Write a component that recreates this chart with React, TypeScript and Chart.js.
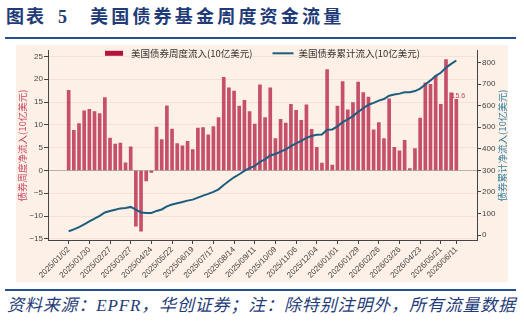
import React, { useEffect, useRef } from 'react';
import { Chart, registerables } from 'chart.js';

Chart.register(...registerables);

// Weekly net flows into US bond funds (USD bn), one per week from 2025/01/02 to 2026/06/11
const weeklyFlows = [
  17.6, 8.8, 10.3, 13.1, 13.4, 12.9, 12.5, 16.0, 7.1, 5.8,
  6.0, 1.7, 5.2, -12.2, -13.3, -2.3, -0.4, 9.5, 6.8, 14.2,
  9.1, 5.9, 5.4, 6.4, 4.6, 9.3, 9.4, 7.8, 9.6, 11.6,
  20.4, 18.1, 17.4, 14.1, 15.4, 12.9, 10.2, 18.8, 11.6, 18.1,
  7.0, 11.2, 10.4, 14.5, 13.2, 11.0, 14.4, 9.0, 5.1, 1.6,
  22.1, 1.2, 14.1, 19.5, 13.3, 14.9, 19.4, 17.1, 16.1, 8.9,
  10.5, 7.0, 15.7, 5.1, 4.3, 6.6, 0.4, 4.8, 11.5, 19.2,
  18.9, 20.7, 14.5, 24.3, 17.0, 15.6,
];

// Cumulative flows (USD bn)
const cumulativeFlows = [
  17.6, 26.4, 36.7, 49.8, 63.2, 76.1, 88.6, 104.6, 111.7, 117.5,
  123.5, 125.2, 130.4, 118.2, 104.9, 102.6, 102.2, 111.7, 118.5, 132.7,
  141.8, 147.7, 153.1, 159.5, 164.1, 173.4, 182.8, 190.6, 200.2, 211.8,
  232.2, 250.3, 267.7, 281.8, 297.2, 310.1, 320.3, 339.1, 350.7, 368.8,
  375.8, 387.0, 397.4, 411.9, 425.1, 436.1, 450.5, 459.5, 464.6, 466.2,
  488.3, 489.5, 503.6, 523.1, 536.4, 551.3, 570.7, 587.8, 603.9, 612.8,
  623.3, 630.3, 646.0, 651.1, 655.4, 662.0, 662.4, 667.2, 678.7, 697.9,
  716.8, 737.5, 752.0, 776.3, 793.3, 808.9,
];

const tickLabels = [
  '2025/01/02', '2025/01/30', '2025/02/27', '2025/03/27', '2025/04/24',
  '2025/05/22', '2025/06/19', '2025/07/17', '2025/08/14', '2025/09/11',
  '2025/10/09', '2025/11/06', '2025/12/04', '2026/01/01', '2026/01/29',
  '2026/02/26', '2026/03/26', '2026/04/23', '2026/05/21', '2026/06/11',
];
const tickWeeks = [0, 4, 8, 12, 16, 20, 24, 28, 32, 36, 40, 44, 48, 52, 56, 60, 64, 68, 72, 75];

const barLabel = '美国债券周度流入(10亿美元)';
const lineLabel = '美国债券累计流入(10亿美元)';
const leftTitle = '债券周度净流入(10亿美元)';
const rightTitle = '债券累计净流入(10亿美元)';

const BAR_COLOR = 'rgba(176,16,60,0.72)';
const BAR_LEGEND = '#b3143f';
const LINE_COLOR = '#1d5d7e';
const AXIS = '#444';
const CJK = '"Noto Sans CJK SC", "Liberation Sans", sans-serif';
const NAVY = '#1f3c78';
const PEACH = '#fdf0e6';

const overlay = {
  id: 'overlay',
  beforeDatasetsDraw(chart: any) {
    const ctx = chart.ctx;
    const meta = chart.getDatasetMeta(1);
    const last = meta.data[meta.data.length - 1];
    ctx.save();
    ctx.font = '7px "Liberation Sans", sans-serif';
    ctx.fillStyle = '#c8436a';
    ctx.textAlign = 'center';
    ctx.textBaseline = 'alphabetic';
    ctx.fillText(weeklyFlows[weeklyFlows.length - 1].toFixed(1), last.x + 2, last.y - 1);
    ctx.restore();
  },
  afterDraw(chart: any) {
    const ctx = chart.ctx;
    const area = chart.chartArea;
    ctx.save();
    // legend
    ctx.font = '9.5px ' + CJK;
    ctx.textBaseline = 'middle';
    ctx.textAlign = 'left';
    const w1 = ctx.measureText(barLabel).width;
    const w2 = ctx.measureText(lineLabel).width;
    const total = 18 + 8 + w1 + 20 + 21 + 5 + w2;
    let x = (area.left + area.right) / 2 - total / 2;
    const y = area.top + 2.5;
    ctx.fillStyle = BAR_LEGEND;
    ctx.fillRect(x, y - 2.5, 18, 5);
    x += 26;
    ctx.fillStyle = '#333';
    ctx.fillText(barLabel, x, y);
    x += w1 + 20;
    ctx.strokeStyle = LINE_COLOR;
    ctx.lineWidth = 2;
    ctx.beginPath();
    ctx.moveTo(x, y);
    ctx.lineTo(x + 21, y);
    ctx.stroke();
    x += 26;
    ctx.fillText(lineLabel, x, y);

    // axis titles
    const cy = (area.top + area.bottom) / 2;
    ctx.textAlign = 'center';
    ctx.font = '9.5px ' + CJK;
    ctx.fillStyle = '#c9466c';
    ctx.save();
    ctx.translate(6.5, cy);
    ctx.rotate(-Math.PI / 2);
    ctx.fillText(leftTitle, 0, 0);
    ctx.restore();
    ctx.fillStyle = '#2f7fa2';
    ctx.save();
    ctx.translate(area.right + 25, cy);
    ctx.rotate(-Math.PI / 2);
    ctx.fillText(rightTitle, 0, 0);
    ctx.restore();
    ctx.restore();
  },
};

export default function App() {
  const canvasRef = useRef<HTMLCanvasElement | null>(null);

  useEffect(() => {
    const canvas = canvasRef.current;
    if (!canvas) return;
    const tickFont = { size: 8, family: '"Liberation Sans", Arial, sans-serif' };
    const chart = new Chart(canvas, {
      type: 'bar',
      data: {
        datasets: [
          {
            type: 'line',
            label: lineLabel,
            data: cumulativeFlows.map((y, x) => ({ x, y })),
            yAxisID: 'y1',
            xAxisID: 'x',
            borderColor: LINE_COLOR,
            borderWidth: 2,
            pointRadius: 0,
            tension: 0,
            fill: false,
            order: 0,
          } as any,
          {
            type: 'bar',
            label: barLabel,
            data: weeklyFlows.map((y, x) => ({ x, y })),
            yAxisID: 'y',
            xAxisID: 'x',
            backgroundColor: BAR_COLOR,
            borderWidth: 0,
            barThickness: 3,
            order: 1,
          } as any,
        ],
      },
      options: {
        responsive: false,
        animation: false,
        layout: { padding: { top: 5, left: 0, right: 0, bottom: 0 } },
        plugins: { legend: { display: false }, tooltip: { enabled: false } },
        scales: {
          x: {
            type: 'linear',
            min: -4,
            max: 79,
            offset: false,
            afterBuildTicks: (s: any) => {
              s.ticks = tickWeeks.map((v) => ({ value: v }));
            },
            afterFit: (s: any) => {
              s.height = 42;
            },
            ticks: {
              autoSkip: false,
              minRotation: 45,
              maxRotation: 45,
              padding: 1,
              font: tickFont,
              color: AXIS,
              callback: (_v: any, i: number) => tickLabels[i],
            },
            grid: { offset: false, drawOnChartArea: false, drawTicks: true, tickLength: 4, tickColor: AXIS },
            border: { color: AXIS, width: 1 },
          } as any,
          y: {
            type: 'linear',
            position: 'left',
            min: -15.24,
            max: 26.24,
            afterFit: (s: any) => {
              s.width = 32;
            },
            ticks: {
              stepSize: 5,
              includeBounds: false,
              padding: 1,
              font: tickFont,
              color: AXIS,
              callback: (v: any) => String(v).replace('-', '\u2212'),
            },
            grid: {
              color: (c: any) => (c.tick && c.tick.value === 0 ? '#b9b1aa' : '#f5e2d6'),
              lineWidth: 1,
              tickLength: 4,
              tickColor: AXIS,
            },
            border: { color: AXIS, width: 1 },
          } as any,
          y1: {
            type: 'linear',
            position: 'right',
            min: -23,
            max: 854,
            afterFit: (s: any) => {
              s.width = 31;
            },
            ticks: {
              stepSize: 100,
              includeBounds: false,
              padding: 1,
              font: tickFont,
              color: AXIS,
            },
            grid: { drawOnChartArea: false, tickLength: 4, tickColor: AXIS },
            border: { color: AXIS, width: 1 },
          } as any,
        },
      },
      plugins: [overlay],
    });
    return () => chart.destroy();
  }, []);

  const serifCjk = '"Liberation Serif", "Noto Sans CJK SC", serif';

  return (
    <div style={{ position: 'absolute', left: 0, top: 0, width: 524, height: 321, background: '#fff', overflow: 'hidden' }}>
      <div style={{ position: 'absolute', left: 6, top: 8, fontFamily: serifCjk, fontWeight: 'bold', fontSize: 18, lineHeight: '18px', color: NAVY, letterSpacing: '2px', whiteSpace: 'nowrap' }}>
        图表
      </div>
      <div style={{ position: 'absolute', left: 58, top: 8, fontFamily: serifCjk, fontWeight: 'bold', fontSize: 18, lineHeight: '18px', color: NAVY, whiteSpace: 'nowrap' }}>
        5
      </div>
      <div style={{ position: 'absolute', left: 90, top: 8, fontFamily: serifCjk, fontWeight: 'bold', fontSize: 18, lineHeight: '18px', color: NAVY, letterSpacing: '3.2px', whiteSpace: 'nowrap' }}>
        美国债券基金周度资金流量
      </div>
      <div style={{ position: 'absolute', left: 5, top: 37, width: 511, height: 2, background: '#264f8f' }} />
      <div style={{ position: 'absolute', left: 16, top: 45, width: 492, height: 237, background: PEACH }}>
        <canvas ref={canvasRef} width={492} height={237} style={{ display: 'block', width: 492, height: 237 }} />
      </div>
      <div style={{ position: 'absolute', left: 5, top: 289, width: 511, height: 2, background: '#264f8f' }} />
      <div style={{ position: 'absolute', left: 7, top: 297, fontFamily: serifCjk, fontStyle: 'italic', fontSize: 17, lineHeight: '17px', color: NAVY, letterSpacing: '0.85px', whiteSpace: 'nowrap' }}>
        资料来源：EPFR，华创证券；注：除特别注明外，所有流量数据
      </div>
    </div>
  );
}
